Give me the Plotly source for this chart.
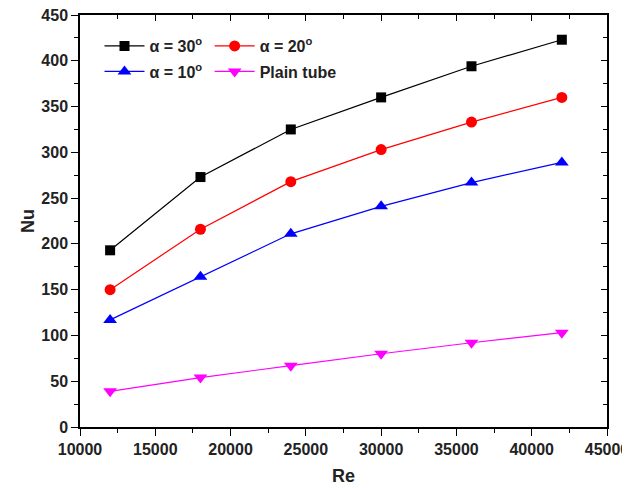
import plotly.graph_objects as go

re_vals = [12000, 18000, 24000, 30000, 36000, 42000]
nu_a30 = [193, 273, 325, 360, 394, 423]
nu_a20 = [150, 216, 268, 303, 333, 360]
nu_a10 = [117, 164, 211, 241, 267, 289]
nu_plain = [39, 54, 67, 80, 92, 103]

series = [
    ("α = 30<sup>o</sup>", nu_a30, "#000000", "square", 10, "legend"),
    ("α = 20<sup>o</sup>", nu_a20, "#FF0000", "circle", 11, "legend2"),
    ("α = 10<sup>o</sup>", nu_a10, "#0000FF", "triangle-up", 12, "legend3"),
    ("Plain tube", nu_plain, "#FF00FF", "triangle-down", 12, "legend4"),
]

FONT = "Liberation Sans, Arial, sans-serif"

fig = go.Figure()
for name, y, color, sym, size, lg in series:
    fig.add_trace(go.Scatter(
        x=re_vals, y=y, name=name, mode="lines+markers",
        line=dict(color=color, width=1.2),
        marker=dict(symbol=sym, size=size, color=color),
        legend=lg,
    ))

# invisible trace so the mirrored top/right axes are drawn
fig.add_trace(go.Scatter(x=[re_vals[0]], y=[nu_a30[0]], xaxis="x2", yaxis="y2",
                         mode="markers", marker=dict(opacity=0, size=1),
                         showlegend=False, hoverinfo="skip"))

axis_common = dict(
    showline=True, linecolor="black", linewidth=1.5, mirror=False,
    showgrid=False, zeroline=False, automargin=False,
    ticks="outside", ticklen=7, tickwidth=1.3, tickcolor="black",
    tickfont=dict(family=FONT, size=16, color="#222", weight="bold"),
    ticklabeloverflow="allow",
)

mirror_common = dict(
    showline=True, linecolor="black", linewidth=1.5, showgrid=False, zeroline=False,
    ticks="inside", ticklen=6, tickwidth=1.3, tickcolor="black", showticklabels=False,
    automargin=False,
)

legend_common = dict(
    orientation="h", xanchor="left", yanchor="top",
    bgcolor="rgba(0,0,0,0)",
    font=dict(family=FONT, size=16, color="#222", weight="bold"),
    itemwidth=40, tracegroupgap=0,
)

fig.update_layout(
    width=630, height=488,
    margin=dict(l=72, r=31, t=7, b=69, autoexpand=False),
    paper_bgcolor="white", plot_bgcolor="white",
    font=dict(family=FONT, color="#222"),
    xaxis=dict(
        range=[10000, 45000], dtick=5000, tick0=10000, tickformat="d",
        minor=dict(ticks="outside", ticklen=4, dtick=2500, tickcolor="black"),
        title=dict(text="Re", font=dict(family=FONT, size=18, weight="bold"), standoff=12),
        **axis_common,
    ),
    yaxis=dict(
        range=[0, 450], dtick=50, tick0=0,
        minor=dict(ticks="outside", ticklen=4, dtick=25, tickcolor="black"),
        title=dict(text="Nu", font=dict(family=FONT, size=18, weight="bold"), standoff=2),
        **axis_common,
    ),
    xaxis2=dict(
        range=[10000, 45000], dtick=5000, tick0=10000, overlaying="x", side="top",
        minor=dict(ticks="inside", ticklen=4, dtick=2500, tickcolor="black"),
        anchor="y2", **mirror_common,
    ),
    yaxis2=dict(
        range=[0, 450], dtick=50, tick0=0, overlaying="y", side="right",
        minor=dict(ticks="inside", ticklen=4, dtick=25, tickcolor="black"),
        anchor="x2", **mirror_common,
    ),
    legend=dict(x=0.037, y=0.966, **legend_common),
    legend2=dict(x=0.246, y=0.966, **legend_common),
    legend3=dict(x=0.037, y=0.904, **legend_common),
    legend4=dict(x=0.246, y=0.904, **legend_common),
    showlegend=True,
)

fig.write_html("out.html")
